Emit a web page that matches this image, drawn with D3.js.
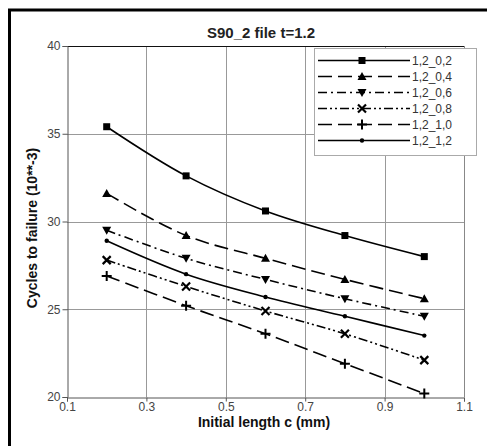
<!DOCTYPE html>
<html>
<head>
<meta charset="utf-8">
<script src="https://cdn.jsdelivr.net/npm/d3@7"></script>
<style>
  body { margin: 0; background: #fff; }
  svg { display: block; font-family: "Liberation Sans", Arial, sans-serif; }
</style>
</head>
<body>
<svg id="chart" width="487" height="446"></svg>
<script>
// chart data
const lengths = [0.2, 0.4, 0.6, 0.8, 1.0];
const seriesNames = ['1,2_0,2', '1,2_0,4', '1,2_0,6', '1,2_0,8', '1,2_1,0', '1,2_1,2'];
const cycles02 = [35.4, 32.6, 30.6, 29.2, 28.0];
const cycles04 = [31.6, 29.2, 27.9, 26.7, 25.6];
const cycles06 = [29.5, 27.9, 26.7, 25.6, 24.6];
const cycles08 = [27.8, 26.3, 24.9, 23.6, 22.1];
const cycles10 = [26.9, 25.2, 23.6, 21.9, 20.2];
const cycles12 = [28.9, 27.0, 25.7, 24.6, 23.5];
const xTicks = [0.1, 0.3, 0.5, 0.7, 0.9, 1.1];
const yTicks = [20, 25, 30, 35, 40];

const seriesValues = [cycles02, cycles04, cycles06, cycles08, cycles10, cycles12];

// line style + marker per series
const styles = [
  { dash: null,            marker: 'square' },
  { dash: '14,6',          marker: 'triangle' },
  { dash: '9,4,2,4',       marker: 'triangleDown' },
  { dash: '9,3,2,3,2,3',   marker: 'cross' },
  { dash: '14,6',          marker: 'plus' },
  { dash: null,            marker: 'dot' }
];

const svg = d3.select('#chart');

// outer frame
svg.append('rect')
  .attr('x', 9.5).attr('y', 10)
  .attr('width', 500).attr('height', 460)
  .attr('fill', 'none')
  .attr('stroke', '#000')
  .attr('stroke-width', 3);

const margin = { left: 67, top: 46, right: 464, bottom: 397 };

const x = d3.scaleLinear().domain([0.1, 1.1]).range([margin.left, margin.right]);
const y = d3.scaleLinear().domain([20, 40]).range([margin.bottom, margin.top]);

// gridlines
svg.append('g')
  .selectAll('line')
  .data(xTicks.slice(1))
  .enter().append('line')
  .attr('x1', d => Math.round(x(d)) + 0.5)
  .attr('x2', d => Math.round(x(d)) + 0.5)
  .attr('y1', margin.top)
  .attr('y2', margin.bottom)
  .attr('stroke', '#999');

svg.append('g')
  .selectAll('line')
  .data(yTicks.slice(1, -1))
  .enter().append('line')
  .attr('x1', margin.left)
  .attr('x2', margin.right)
  .attr('y1', d => Math.round(y(d)) + 0.5)
  .attr('y2', d => Math.round(y(d)) + 0.5)
  .attr('stroke', '#999');

// plot border: top dark, right gray
svg.append('line')
  .attr('x1', margin.left).attr('x2', margin.right)
  .attr('y1', margin.top + 0.5).attr('y2', margin.top + 0.5)
  .attr('stroke', '#111');
svg.append('line')
  .attr('x1', margin.right + 0.5).attr('x2', margin.right + 0.5)
  .attr('y1', margin.top).attr('y2', margin.bottom)
  .attr('stroke', '#888');

// axes
const xAxis = d3.axisBottom(x)
  .tickValues(xTicks)
  .tickFormat(d3.format('.1f'))
  .tickSize(4)
  .tickPadding(1);
const yAxis = d3.axisLeft(y)
  .tickValues(yTicks)
  .tickSize(5)
  .tickPadding(2);

const gx = svg.append('g')
  .attr('transform', `translate(0,${margin.bottom + 0.5})`)
  .call(xAxis);
const gy = svg.append('g')
  .attr('transform', `translate(${margin.left + 0.5},0)`)
  .call(yAxis);

[gx, gy].forEach(g => {
  g.select('.domain').attr('stroke', '#555');
  g.selectAll('.tick line').attr('stroke', '#555');
  g.selectAll('.tick text')
    .attr('fill', '#444')
    .style('font-size', '12px')
    .style('font-family', '"Liberation Sans", Arial, sans-serif');
});

// line generator
const line = d3.line()
  .x(d => x(d[0]))
  .y(d => y(d[1]))
  .curve(d3.curveCatmullRom.alpha(0.5));

function drawMarker(g, type, cx, cy) {
  const s = 3.5;
  if (type === 'square') {
    g.append('rect').attr('x', cx - s).attr('y', cy - s)
      .attr('width', 2 * s).attr('height', 2 * s).attr('fill', '#000');
  } else if (type === 'triangle') {
    g.append('path')
      .attr('d', `M${cx},${cy - 4.5}L${cx + 4.5},${cy + 3.5}L${cx - 4.5},${cy + 3.5}Z`)
      .attr('fill', '#000');
  } else if (type === 'triangleDown') {
    g.append('path')
      .attr('d', `M${cx},${cy + 4.5}L${cx + 4.5},${cy - 3.5}L${cx - 4.5},${cy - 3.5}Z`)
      .attr('fill', '#000');
  } else if (type === 'cross') {
    g.append('path')
      .attr('d', `M${cx - 4},${cy - 4}L${cx + 4},${cy + 4}M${cx - 4},${cy + 4}L${cx + 4},${cy - 4}`)
      .attr('stroke', '#000').attr('stroke-width', 2.2);
  } else if (type === 'plus') {
    g.append('path')
      .attr('d', `M${cx - 5},${cy}L${cx + 5},${cy}M${cx},${cy - 5}L${cx},${cy + 5}`)
      .attr('stroke', '#000').attr('stroke-width', 2);
  } else if (type === 'dot') {
    g.append('circle').attr('cx', cx).attr('cy', cy).attr('r', 2.2).attr('fill', '#000');
  }
}

// series
const plot = svg.append('g');
seriesValues.forEach((vals, i) => {
  const pts = lengths.map((c, j) => [c, vals[j]]);
  plot.append('path')
    .datum(pts)
    .attr('d', line)
    .attr('fill', 'none')
    .attr('stroke', '#000')
    .attr('stroke-width', 1.6)
    .attr('stroke-dasharray', styles[i].dash);
  pts.forEach(p => drawMarker(plot, styles[i].marker, x(p[0]), y(p[1])));
});

// legend
const legend = svg.append('g');
legend.append('rect')
  .attr('x', 314.5).attr('y', 48.5)
  .attr('width', 162).attr('height', 107)
  .attr('fill', '#fff')
  .attr('stroke', '#aaa');

seriesNames.forEach((name, i) => {
  const ly = 60.5 + i * 16;
  legend.append('line')
    .attr('x1', 318).attr('x2', 410)
    .attr('y1', ly).attr('y2', ly)
    .attr('stroke', '#000')
    .attr('stroke-width', 1.6)
    .attr('stroke-dasharray', styles[i].dash);
  drawMarker(legend, styles[i].marker, 362, ly);
  legend.append('text')
    .attr('x', 412).attr('y', ly + 4.5)
    .attr('fill', '#333')
    .style('font-size', '12px')
    .text(name);
});

// titles
svg.append('text')
  .attr('x', 261).attr('y', 38)
  .attr('text-anchor', 'middle')
  .style('font-size', '15px')
  .style('font-weight', 'bold')
  .attr('fill', '#222')
  .text('S90_2 file t=1.2');

svg.append('text')
  .attr('x', 264).attr('y', 427)
  .attr('text-anchor', 'middle')
  .style('font-size', '14px')
  .style('font-weight', 'bold')
  .attr('fill', '#111')
  .text('Initial length c (mm)');

svg.append('text')
  .attr('transform', 'translate(37,228) rotate(-90)')
  .attr('text-anchor', 'middle')
  .style('font-size', '14px')
  .style('font-weight', 'bold')
  .attr('fill', '#111')
  .text('Cycles to failure (10**-3)');
</script>
</body>
</html>
